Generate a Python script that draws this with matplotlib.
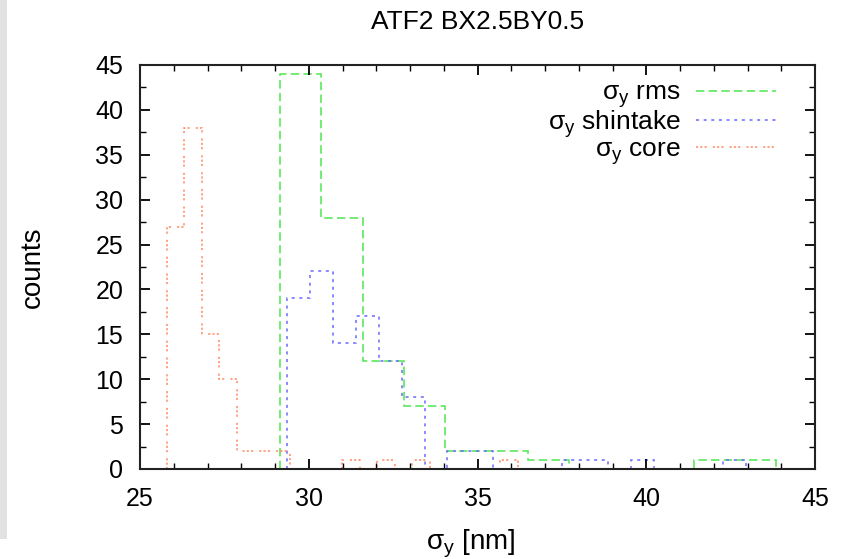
import numpy as np
import matplotlib
matplotlib.use("Agg")
import matplotlib.pyplot as plt
from matplotlib.patches import Rectangle
from matplotlib.ticker import MultipleLocator

plt.rcParams['font.family'] = ['Liberation Sans', 'DejaVu Sans']
plt.rcParams['mathtext.fontset'] = 'custom'
plt.rcParams['mathtext.rm'] = 'Liberation Sans'
plt.rcParams['mathtext.it'] = 'Liberation Sans'
plt.rcParams['mathtext.sf'] = 'Liberation Sans'

# histogram data (counts per bin)
rms_start, rms_width = 29.15, 1.225
rms_counts = [44, 28, 12, 7, 2, 2, 1, 0, 0, 0, 1, 1]

shin_start, shin_width = 29.35, 0.68
shin_counts = [19, 22, 14, 17, 12, 8, 0, 2, 2, 0, 0, 0, 1, 1, 0, 1, 0, 0, 0, 1]

core_start, core_width = 25.79, 0.52
core_counts = [27, 38, 15, 10, 2, 2, 2, 0, 0, 0, 1, 0, 1, 0, 1, 0, 0, 0, 0, 1]

labels = [r'$\mathregular{\sigma_y}$ rms', r'$\mathregular{\sigma_y}$ shintake',
          r'$\mathregular{\sigma_y}$ core']
colors = ['#4ee64e', '#6a6aff', '#ff8a60']
styles = [(0, (5.5, 2.8)), (0, (2.0, 3.0)), (0, (1.4, 1.4, 1.4, 1.4, 1.4, 4.0))]


def edges(start, width, counts):
    return start + width * np.arange(len(counts) + 1)


fig = plt.figure(figsize=(8.55, 5.59), dpi=100)
fig.patches.append(Rectangle((0, 20 / 559), 7 / 855, 1 - 20 / 559, transform=fig.transFigure,
                             facecolor='#e2e2e2', edgecolor='none', zorder=0))
ax = fig.add_axes([140 / 855, 1 - 469 / 559, 675 / 855, 404 / 559])

data = [(rms_start, rms_width, rms_counts),
        (shin_start, shin_width, shin_counts),
        (core_start, core_width, core_counts)]
for (s, w, c), lab, col, ls in zip(data, labels, colors, styles):
    ax.stairs(c, edges(s, w, c), baseline=0, color=col, linestyle=ls, lw=1.1, label=lab)

ax.set_xlim(25, 45)
ax.set_ylim(0, 45)
ax.xaxis.set_major_locator(MultipleLocator(5))
ax.xaxis.set_minor_locator(MultipleLocator(1))
ax.yaxis.set_major_locator(MultipleLocator(5))
ax.yaxis.set_minor_locator(MultipleLocator(2.5))
ax.tick_params(which='both', direction='in', top=True, right=True, labelsize=18)
ax.tick_params(which='major', length=7.5, width=1.3)
ax.tick_params(which='minor', length=4.2, width=1.0)
ax.tick_params(axis='x', pad=13)
ax.tick_params(axis='y', pad=12)
for sp in ax.spines.values():
    sp.set_linewidth(1.5)
    sp.set_color('#222222')

ax.set_title('ATF2 BX2.5BY0.5', fontsize=19, pad=26)
ax.set_ylabel('counts', fontsize=20)
ax.yaxis.set_label_coords(-0.14, 0.5)
ax.set_xlabel(r'$\mathregular{\sigma_y}$ [nm]', fontsize=20)
ax.xaxis.set_label_coords(0.49, -0.145)

ax.legend(loc='upper right', frameon=False, markerfirst=False, fontsize=19,
          handlelength=3.0, handletextpad=0.6, labelspacing=-0.08,
          borderaxespad=0.2, bbox_to_anchor=(0.965, 1.0))

fig.savefig('out.png', dpi=100)
